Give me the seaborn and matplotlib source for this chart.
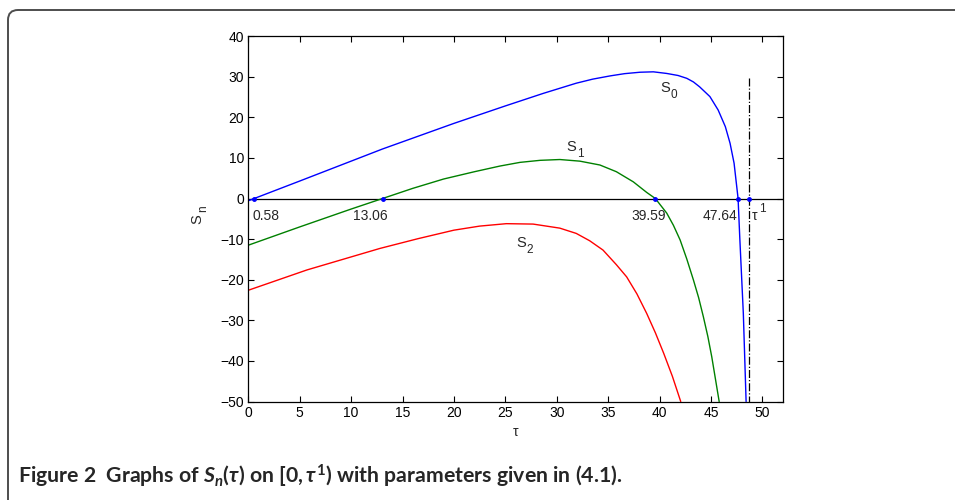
import matplotlib
matplotlib.use("Agg")
import matplotlib.pyplot as plt
from matplotlib.patches import FancyBboxPatch
import seaborn as sns

# values
tau_s0 = [0, 5, 10, 13.06, 20, 25, 28.7, 31.9, 33.5, 35.2, 36.6, 38.1, 39.4,
          40.7, 41.8, 42.65, 43.3, 43.9, 44.9, 45.7, 46.4, 46.86, 47.25, 47.64,
          47.8, 48.15, 48.42]
s0 = [-0.56, 4.3, 9.2, 12.2, 18.5, 22.8, 25.9, 28.4, 29.4, 30.2, 30.75, 31.1, 31.2,
      30.8, 30.3, 29.6, 28.7, 27.5, 25.1, 21.8, 17.7, 13.6, 8.7, 0,
      -9.4, -28.3, -50]

tau_s1 = [0, 5, 10, 13.06, 16, 19, 22, 24.49, 26.43, 28.38, 30.3, 32.25, 34.2,
          35.8, 37.45, 38.75, 39.59, 40.7, 41.35, 42.0, 42.65, 43.3, 43.8, 44.26,
          44.7, 45.08, 45.8]
s1 = [-11.5, -7.0, -2.6, 0, 2.5, 4.8, 6.6, 8.0, 8.9, 9.4, 9.6, 9.2, 8.25,
      6.6, 4.1, 1.5, 0, -3.6, -6.6, -10.2, -14.9, -20.1, -24.4, -29.1,
      -34.0, -39.0, -50]

tau_s2 = [0, 5.7, 12.8, 16.5, 20, 22.5, 25.1, 27.7, 30.3, 31.9, 33.2, 34.5, 35.8,
          36.8, 37.8, 38.75, 39.6, 40.4, 41.25, 42.06]
s2 = [-22.6, -17.6, -12.3, -9.9, -7.8, -6.8, -6.2, -6.3, -7.3, -8.6, -10.4, -12.7, -16.3,
      -19.3, -23.5, -28.3, -33.1, -38.1, -43.8, -50]

roots = [0.58, 13.06, 39.59, 47.64]
root_labels = ["0.58", "13.06", "39.59", "47.64"]
label_x = [0.36, 11.85, 38.9, 45.9]
label_ha = ["left", "center", "center", "center"]
tau1 = 48.74
tau1_top = 29.6

curve_names = ["0", "1", "2"]
curve_label_pos = [(40.05, 26.3), (30.97, 11.8), (26.1, -11.9)]

sns.set_theme(style="ticks")
plt.rcParams["font.family"] = ["Liberation Sans", "DejaVu Sans"]
plt.rcParams["mathtext.fontset"] = "custom"
plt.rcParams["mathtext.rm"] = "Lato:bold"
plt.rcParams["mathtext.it"] = "Lato:bold:italic"
plt.rcParams["mathtext.bf"] = "Lato:bold"

fig = plt.figure(figsize=(9.55, 5), dpi=100)
ax = fig.add_axes([0.26, 0.197, 0.5598, 0.7308])

sns.lineplot(x=tau_s0, y=s0, ax=ax, color="blue", lw=1, sort=False, estimator=None)
sns.lineplot(x=tau_s1, y=s1, ax=ax, color="green", lw=1, sort=False, estimator=None)
sns.lineplot(x=tau_s2, y=s2, ax=ax, color="red", lw=1, sort=False, estimator=None)

ax.axhline(0, color="black", lw=0.9, zorder=1)
ax.plot([tau1, tau1], [tau1_top, -50], color="black", lw=0.9, ls="-.")
ax.plot(roots + [tau1], [0] * (len(roots) + 1), "o", color="blue", ms=2.5, zorder=5)

# zero-crossing labels
for lab, lx, ha in zip(root_labels, label_x, label_ha):
    ax.text(lx, -5.3, lab, fontsize=10, ha=ha, va="baseline")
ax.text(49.0, -5.3, "τ", fontsize=10, ha="left", va="baseline")
ax.annotate("1", xy=(49.0, -5.3), xytext=(5.0, 5.5), textcoords="offset points",
            fontsize=8.5, ha="left", va="baseline")

# curve names S_0, S_1, S_2
for name, (cx, cy) in zip(curve_names, curve_label_pos):
    ax.text(cx, cy, "S", fontsize=10.5, ha="left", va="baseline")
    ax.annotate(name, xy=(cx, cy), xytext=(7.4, -4.6), textcoords="offset points",
                fontsize=8.5, ha="left", va="baseline")

ax.set_xlim(0, 52)
ax.set_ylim(-50, 40)
ax.set_xticks(range(0, 51, 5))
ax.set_yticks(range(-50, 41, 10))
ax.tick_params(direction="in", top=True, right=True, length=4, width=0.8,
               labelsize=10, colors="black", pad=3)
for sp in ax.spines.values():
    sp.set_color("black")
    sp.set_linewidth(0.9)
ax.set_xlabel("τ", fontsize=10, labelpad=4)

# y label S_n (rotated)
fig.text(197 / 955, 1 - 219 / 500, "S", fontsize=10.5, rotation=90, ha="center", va="center")
fig.text(203 / 955, 1 - 209 / 500, "n", fontsize=8.5, rotation=90, ha="center", va="center")

# rounded frame, only the top and left edges are visible
frame = FancyBboxPatch((0.08, -1.0), 11.9, 5.9,
                       boxstyle="round,pad=0,rounding_size=0.1",
                       transform=fig.dpi_scale_trans, fill=False,
                       edgecolor="#4d4d4d", lw=1.4)
fig.add_artist(frame)

fig.text(18 / 955, 1 - 484 / 500,
         r"Figure 2  Graphs of $S_n(\tau)$ on $[0,\tau^1)$ with parameters given in (4.1).",
         fontsize=15.3, fontweight="bold", family="Lato", ha="left", va="baseline")

fig.savefig("out.png", dpi=100)
